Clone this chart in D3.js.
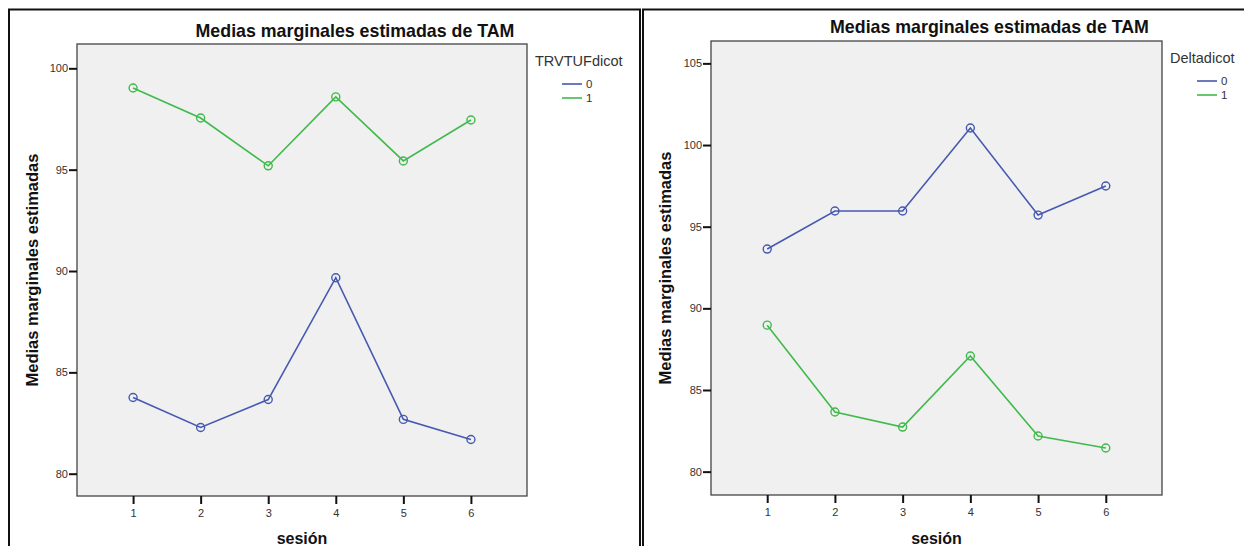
<!DOCTYPE html>
<html>
<head>
<meta charset="utf-8">
<script src="https://cdn.jsdelivr.net/npm/d3@7"></script>
<style>
  body { margin: 0; background: #fff; }
  svg { display: block; font-family: "Liberation Sans", Arial, sans-serif; }
</style>
</head>
<body>
<svg id="canvas" width="1244" height="546"></svg>
<script>
// sessions on the x axis
let sessions = [1, 2, 3, 4, 5, 6]

// left chart: TRVTUFdicot groups
let trvGroup0 = [83.76, 82.28, 83.66, 89.67, 82.68, 81.69]
let trvGroup1 = [99.03, 97.55, 95.19, 98.59, 95.43, 97.45]
let trvTicks = [80, 85, 90, 95, 100]

// right chart: Deltadicot groups
let deltaGroup0 = [93.63, 95.96, 95.96, 101.04, 95.71, 97.49]
let deltaGroup1 = [88.97, 83.65, 82.73, 87.08, 82.18, 81.45]
let deltaTicks = [80, 85, 90, 95, 100, 105]

let groupLabels = ['0', '1']
let colors = ['#4659b0', '#3fba4c']

let svg = d3.select('#canvas')

// panel frames
svg.append('rect').attr('x', 9).attr('y', 9.5).attr('width', 631).attr('height', 545)
    .attr('fill', 'none').attr('stroke', '#111').attr('stroke-width', 2)
svg.append('rect').attr('x', 643).attr('y', 9.5).attr('width', 610).attr('height', 545)
    .attr('fill', 'none').attr('stroke', '#111').attr('stroke-width', 2)

let drawPanel = (opt) => {
    let g = svg.append('g')

    let x = d3.scaleLinear().domain([0.17, 6.83]).range([opt.left, opt.right])
    let y = d3.scaleLinear().domain(opt.yDomain).range([opt.bottom, opt.top])

    g.append('rect')
        .attr('x', opt.left).attr('y', opt.top)
        .attr('width', opt.right - opt.left).attr('height', opt.bottom - opt.top)
        .attr('fill', '#f0f0f0').attr('stroke', '#444').attr('stroke-width', 1.3)

    let yAxis = g.append('g')
        .attr('transform', 'translate(' + opt.left + ',0)')
        .call(d3.axisLeft(y).tickValues(opt.ticks).tickSize(8).tickPadding(1))
    yAxis.select('.domain').remove()
    yAxis.selectAll('line').attr('stroke', '#111').attr('stroke-width', 2)
    yAxis.selectAll('text').attr('font-size', 11).attr('fill', '#333')
        .attr('font-family', '"Liberation Sans", Arial, sans-serif')

    let xAxis = g.append('g')
        .attr('transform', 'translate(0,' + opt.bottom + ')')
        .call(d3.axisBottom(x).tickValues(sessions).tickFormat(d3.format('d')).tickSize(8).tickPadding(5))
    xAxis.select('.domain').remove()
    xAxis.selectAll('line').attr('stroke', '#111').attr('stroke-width', 2)
    xAxis.selectAll('text').attr('font-size', 11).attr('fill', '#333')
        .attr('font-family', '"Liberation Sans", Arial, sans-serif')

    let line = d3.line()
        .x((d, i) => x(sessions[i]))
        .y((d) => y(d))

    opt.series.forEach((values, k) => {
        g.append('path')
            .attr('d', line(values))
            .attr('fill', 'none')
            .attr('stroke', colors[k])
            .attr('stroke-width', 1.6)
        g.selectAll('.m' + k)
            .data(values)
            .enter()
            .append('circle')
            .attr('cx', (d, i) => x(sessions[i]))
            .attr('cy', (d) => y(d))
            .attr('r', 4)
            .attr('fill', 'none')
            .attr('stroke', colors[k])
            .attr('stroke-width', 1.4)
    })

    // titles
    g.append('text')
        .attr('x', (opt.left + opt.right) / 2 + opt.titleShift).attr('y', opt.titleY)
        .attr('text-anchor', 'middle').attr('font-weight', 'bold').attr('font-size', 17.8)
        .attr('fill', '#111')
        .text('Medias marginales estimadas de TAM')

    g.append('text')
        .attr('transform', 'translate(' + opt.yTitleX + ',' + ((opt.top + opt.bottom) / 2) + ') rotate(-90)')
        .attr('text-anchor', 'middle').attr('font-weight', 'bold').attr('font-size', 16.5)
        .attr('fill', '#111')
        .text('Medias marginales estimadas')

    g.append('text')
        .attr('x', (opt.left + opt.right) / 2).attr('y', 544)
        .attr('text-anchor', 'middle').attr('font-weight', 'bold').attr('font-size', 16)
        .attr('fill', '#111')
        .text('sesión')

    // legend
    g.append('text')
        .attr('x', opt.right + 8).attr('y', opt.legendY)
        .attr('font-size', 14.5).attr('fill', '#333')
        .text(opt.legendTitle)

    groupLabels.forEach((label, k) => {
        let ly = opt.legendY + 18 + k * 14
        g.append('line')
            .attr('x1', opt.right + 35).attr('x2', opt.right + 55)
            .attr('y1', ly).attr('y2', ly)
            .attr('stroke', colors[k]).attr('stroke-width', 1.6)
        g.append('text')
            .attr('x', opt.right + 59).attr('y', ly + 4)
            .attr('font-size', 11.5).attr('fill', '#333')
            .text(label)
    })
}

drawPanel({
    left: 77, right: 527, top: 44, bottom: 496,
    yDomain: [78.9, 101.2], ticks: trvTicks,
    series: [trvGroup0, trvGroup1],
    titleShift: 53, titleY: 37, yTitleX: 38,
    legendTitle: 'TRVTUFdicot', legendY: 66
})

drawPanel({
    left: 711, right: 1162, top: 41, bottom: 495,
    yDomain: [78.57, 106.37], ticks: deltaTicks,
    series: [deltaGroup0, deltaGroup1],
    titleShift: 53, titleY: 33, yTitleX: 671,
    legendTitle: 'Deltadicot', legendY: 63
})
</script>
</body>
</html>
